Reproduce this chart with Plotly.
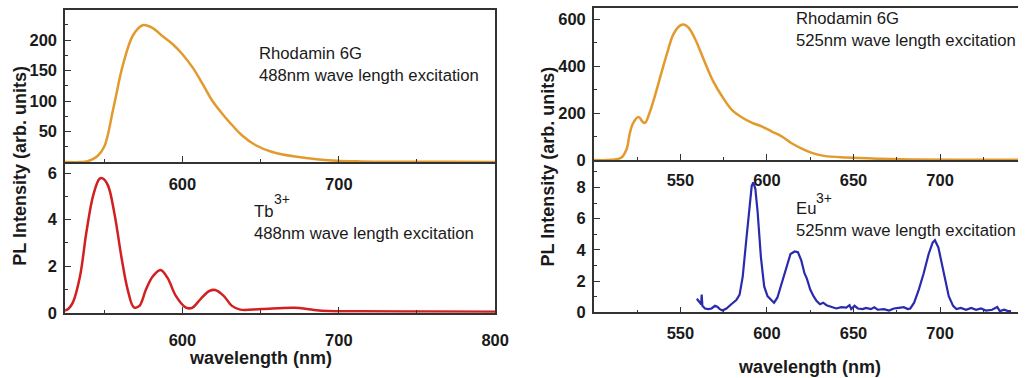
import plotly.graph_objects as go

# ---------------- data ----------------
# Left top: Rhodamin 6G, 488 nm excitation
r6g_488_x = [525, 535, 539, 545.4, 550, 556, 562, 568.6, 575, 581, 587.6, 594, 600, 606.6, 613,
             619, 625.6, 632, 638, 646.6, 657, 672, 693, 714, 740, 770, 800]
r6g_488_y = [0, 0, 1, 9, 25, 90, 160, 209, 225, 220, 206, 193, 177, 155, 128,
             101, 79, 60, 44, 28, 17, 9, 3, 1, 0.5, 0.3, 0.2]

# Left bottom: Tb3+, 488 nm excitation
tb_x = [524.5, 527, 530, 534.5, 538.7, 543, 547, 549, 552.4, 556.7, 561, 565, 569, 572.5, 576.7,
        581, 586, 590.5, 595.8, 602, 606, 611.6, 617, 621, 626.4, 631.7, 637, 650.7, 671.9,
        682.4, 693, 714, 756, 800]
tb_y = [0.1, 0.17, 0.45, 1.56, 3.5, 5.05, 5.75, 5.77, 5.47, 4.2, 2.4, 1.0, 0.24, 0.3, 1.0,
        1.56, 1.84, 1.5, 0.73, 0.24, 0.21, 0.59, 0.93, 0.98, 0.73, 0.3, 0.14, 0.17, 0.22,
        0.14, 0.08, 0.07, 0.06, 0.05]

# Right top: Rhodamin 6G, 525 nm excitation
r6g_525_x = [500, 510.4, 516, 518.9, 520.8, 522.6, 525.8, 528.3, 529.6, 532, 535, 538.7, 542.5,
             546, 550, 551.9, 554.7, 558.5, 563.2, 568.9, 574.5, 580, 585.8, 591.5, 597.2, 602.8,
             608.5, 614, 619.8, 625.5, 633, 646, 665, 684, 712, 745]
r6g_525_y = [0, 1, 11, 46, 115, 157, 184, 163, 159, 198, 267, 364, 461,
             538, 575, 579, 565, 517, 434, 337, 267, 212, 181, 159, 143, 122,
             101, 73, 50, 32, 18, 11, 6, 3, 1, 1]

# Right bottom: Eu3+, 525 nm excitation
eu_x = [559.5, 560.8, 562, 562.3, 562.7, 564.2, 566.1, 568, 570, 571.3, 572.8, 574.3, 576.6, 579.4,
        582.3, 584.2, 586, 588, 589.8, 591.2, 592.1, 593.3, 594.6, 596.5, 598.4, 600.3, 602.2,
        604.1, 606, 607.9, 609.8, 611.7, 613.6, 616, 617.9, 619.8, 621.7, 623, 625, 626.9, 628.7,
        630.6, 632.5, 634.4, 637.3, 640, 643, 645.8, 647.7, 648.7, 650.6, 652.5, 655.3, 657.2,
        660, 662, 663.9, 667.6, 670.5, 673.3, 676.2, 679, 681.3, 682.8, 685, 687.7, 690.5, 693.4,
        695.7, 697, 699, 700.9, 702.8, 705, 707.5, 709.4, 712, 715, 718, 720.8, 723.6, 726.5,
        730, 733, 734.5, 737, 738.9, 741]
eu_y = [0.87, 0.67, 0.52, 1.14, 0.42, 0.25, 0.21, 0.25, 0.42, 0.37, 0.21, 0.12, 0.25, 0.52,
        0.79, 1.14, 2.29, 4.57, 6.86, 8.1, 8.32, 7.9, 6.44, 3.53, 1.66, 1.04, 0.83,
        0.62, 0.94, 1.66, 2.29, 3.12, 3.74, 3.9, 3.85, 3.33, 2.49, 2.18, 1.46, 1.04, 0.73,
        0.52, 0.62, 0.46, 0.37, 0.25, 0.33, 0.31, 0.46, 0.21, 0.42, 0.25, 0.21, 0.29,
        0.21, 0.33, 0.17, 0.21, 0.12, 0.25, 0.29, 0.33, 0.21, 0.25, 0.62, 1.46, 2.49, 3.74,
        4.47, 4.62, 4.16, 3.12, 2.08, 1.04, 0.42, 0.21, 0.29, 0.17, 0.29, 0.17, 0.25, 0.12,
        0.17, 0.35, 0.08, 0.17, 0.1, 0.08]

# tick labels
left_top_yticks = [50, 100, 150, 200]
left_bot_yticks = [0, 2, 4, 6]
left_top_xticks = [600, 700]
left_bot_xticks = [600, 700, 800]
right_top_yticks = [0, 200, 400, 600]
right_bot_yticks = [0, 2, 4, 6, 8]
right_xticks = [550, 600, 650, 700]

# ---------------- figure ----------------
W, H = 1032, 378
def px(x):
    return x / W
def py(y):
    return 1 - y / H

ORANGE = "#E39A2C"
RED = "#D21F1F"
BLUE = "#2A2AAE"
AX = "#333333"
FONT = "Liberation Sans, Arial, sans-serif"

fig = go.Figure()
fig.add_trace(go.Scatter(x=r6g_488_x, y=r6g_488_y, mode="lines", line=dict(color=ORANGE, width=2.5, shape="spline"),
                         xaxis="x", yaxis="y", showlegend=False))
fig.add_trace(go.Scatter(x=tb_x, y=tb_y, mode="lines", line=dict(color=RED, width=2.5, shape="spline"),
                         xaxis="x2", yaxis="y2", showlegend=False))
fig.add_trace(go.Scatter(x=r6g_525_x, y=r6g_525_y, mode="lines", line=dict(color=ORANGE, width=2.5, shape="spline"),
                         xaxis="x3", yaxis="y3", showlegend=False))
fig.add_trace(go.Scatter(x=eu_x, y=eu_y, mode="lines", line=dict(color=BLUE, width=2.2),
                         xaxis="x4", yaxis="y4", showlegend=False))

tickfont = dict(family=FONT, size=16.5, color="#1a1a1a", weight="bold")

def xax(domain, rng, tickvals, minor_dtick, anchor, mirror, standoff):
    return dict(domain=domain, range=rng, anchor=anchor, tickmode="array", tickvals=tickvals,
                ticks="inside", ticklen=6, tickwidth=1.3, tickcolor=AX,
                minor=dict(ticks="inside", ticklen=3, tickcolor=AX, dtick=minor_dtick, tick0=0, showgrid=False),
                showline=True, linecolor=AX, linewidth=1.5, mirror=mirror, showgrid=False, zeroline=False,
                tickfont=tickfont, ticklabelstandoff=standoff)

def yax(domain, rng, tickvals, minor_dtick, anchor, mirror):
    return dict(domain=domain, range=rng, anchor=anchor, tickmode="array", tickvals=tickvals,
                ticks="inside", ticklen=6, tickwidth=1.3, tickcolor=AX,
                minor=dict(ticks="inside", ticklen=3, tickcolor=AX, dtick=minor_dtick, tick0=0, showgrid=False),
                showline=True, linecolor=AX, linewidth=1.5, mirror=mirror, showgrid=False, zeroline=False,
                tickfont=tickfont, ticklabelstandoff=3)

LX = [px(66), px(502)]
RX = [px(602), 1.0]

fig.update_layout(
    width=W, height=H, margin=dict(l=0, r=0, t=0, b=0),
    paper_bgcolor="white", plot_bgcolor="rgba(0,0,0,0)",
    font=dict(family=FONT, color="#1a1a1a"),
    xaxis=xax(LX, [525, 800], left_top_xticks, 50, "y", True, 6),
    yaxis=yax([py(166), py(10)], [0, 250], left_top_yticks, 25, "x", True),
    xaxis2=xax(LX, [525, 800], left_bot_xticks, 50, "y2", False, 12),
    yaxis2=yax([py(320.5), py(166)], [0, 6.47], left_bot_yticks, 1, "x2", True),
    xaxis3=xax(RX, [500, 745], right_xticks, 25, "y3", True, 4),
    yaxis3=yax([py(164), py(8)], [0, 650], right_top_yticks, 100, "x3", False),
    xaxis4=xax(RX, [500, 745], right_xticks, 25, "y4", False, 5),
    yaxis4=yax([py(320), py(164)], [0, 9.75], right_bot_yticks, 1, "x4", False),
)

annfont = dict(family=FONT, size=16.7, color="#1a1a1a")
supfont = dict(family=FONT, size=14, color="#1a1a1a")
titlefont = dict(family=FONT, size=18, color="#1a1a1a", weight="bold")
anns = [
    dict(text="Rhodamin 6G<br>488nm wave length excitation", x=px(261), y=py(66), xanchor="left", yanchor="middle", align="left", font=annfont),
    dict(text="Tb<br>488nm wave length excitation", x=px(255), y=py(228), xanchor="left", yanchor="middle", align="left", font=annfont),
    dict(text="3+", x=px(276), y=py(204), xanchor="left", yanchor="middle", align="left", font=supfont),
    dict(text="Rhodamin 6G<br>525nm wave length excitation", x=px(805), y=py(30), xanchor="left", yanchor="middle", align="left", font=annfont),
    dict(text="Eu<br>525nm wave length excitation", x=px(805), y=py(225), xanchor="left", yanchor="middle", align="left", font=annfont),
    dict(text="3+", x=px(825), y=py(203), xanchor="left", yanchor="middle", align="left", font=supfont),
    dict(text="PL Intensity (arb. units)", x=px(20), y=py(170), textangle=-90, xanchor="center", yanchor="middle", font=titlefont),
    dict(text="PL Intensity (arb. units)", x=px(555), y=py(170), textangle=-90, xanchor="center", yanchor="middle", font=titlefont),
    dict(text="wavelength (nm)", x=px(264), y=py(367), xanchor="center", yanchor="middle", font=titlefont),
    dict(text="wavelength (nm)", x=px(821), y=py(376), xanchor="center", yanchor="middle", font=titlefont),
]
for a in anns:
    a.update(xref="paper", yref="paper", showarrow=False)
fig.update_layout(annotations=anns)

fig.write_html("out.html")
